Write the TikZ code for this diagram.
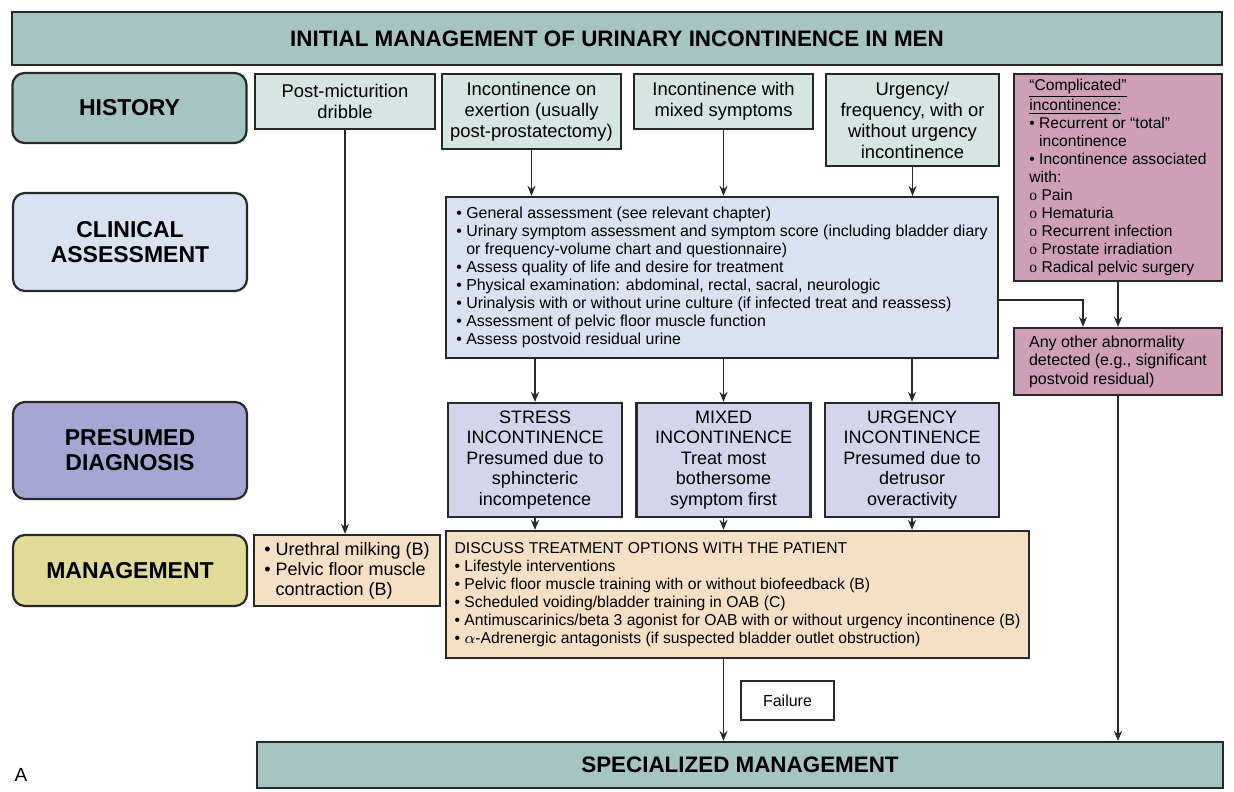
\documentclass[tikz,border=0pt]{standalone}
\usepackage{fontspec}
\setmainfont{Liberation Sans}
\newfontfamily\serifo{Liberation Serif}
\usepackage{tikz}
\usetikzlibrary{arrows.meta}
\definecolor{boxline}{RGB}{40,40,40}
\definecolor{headteal}{RGB}{166,196,192}
\definecolor{histlight}{RGB}{214,228,226}
\definecolor{clinblue}{RGB}{218,225,240}
\definecolor{diagdark}{RGB}{165,166,210}
\definecolor{diaglight}{RGB}{212,212,236}
\definecolor{mgmtyellow}{RGB}{222,220,152}
\definecolor{mgmtpeach}{RGB}{245,223,198}
\definecolor{comppink}{RGB}{205,160,182}
\newcommand{\ind}{\phantom{\textbullet\ }}
\newcommand{\subo}{{\serifo o} }

\begin{document}
\begin{tikzpicture}[x=0.5pt,y=-0.5pt,
    box/.style={draw=boxline,line width=1.1pt,inner sep=0pt,align=center},
    rowlabel/.style={box,rounded corners=6pt,font=\fontsize{11.5}{12.5}\selectfont\bfseries},
    headbox/.style={box,fill=headteal,font=\fontsize{11.2}{12}\selectfont\bfseries},
    arr/.style={-{Stealth[length=5pt,width=4pt]},line width=0.9pt,draw=boxline}]
    \useasboundingbox (0,0) rectangle (1234,791);

    % Title
    \node[headbox,minimum width=605pt,minimum height=26.5pt] (title) at (617,38.5) {INITIAL MANAGEMENT OF URINARY INCONTINENCE IN MEN};

    % Row labels
    \node[rowlabel,fill=headteal,minimum width=117pt,minimum height=35pt] (history) at (129.5,108) {HISTORY};
    \node[rowlabel,fill=clinblue,minimum width=117pt,minimum height=49pt] (clinical) at (130,242) {CLINICAL\\ASSESSMENT};
    \node[rowlabel,fill=diagdark,minimum width=117pt,minimum height=48.5pt] (presumed) at (130,450.5) {PRESUMED\\DIAGNOSIS};
    \node[rowlabel,fill=mgmtyellow,minimum width=117pt,minimum height=35.5pt] (management) at (130,570.5) {MANAGEMENT};

    % History
    \begin{scope}[every node/.style={box,fill=histlight,font=\fontsize{9.2}{10.5}\selectfont}]
    \node[minimum width=90pt,minimum height=27.5pt] (postmic) at (345,101.5) {Post-micturition\\dribble};
    \node[minimum width=89.5pt,minimum height=37.5pt] (exertion) at (531.5,111.5) {Incontinence on\\exertion (usually\\post-prostatectomy)};
    \node[minimum width=89.5pt,minimum height=27.5pt] (mixedsym) at (723.5,101.5) {Incontinence with\\mixed symptoms};
    \node[minimum width=86.5pt,minimum height=46pt] (urgfreq) at (912.5,120) {Urgency/\\frequency, with or\\without urgency\\incontinence};
    \end{scope}

    % Complicated
    \node[box,fill=comppink,align=left,minimum width=104pt,minimum height=103.5pt,font=\fontsize{7.8}{9}\selectfont] (complicated) at (1118,177.5)
        {\underline{“Complicated”}\\\underline{incontinence:}\\\textbullet\ Recurrent or “total”\\\ind incontinence\\\textbullet\ Incontinence associated\\with:\\\subo Pain\\\subo Hematuria\\\subo Recurrent infection\\\subo Prostate irradiation\\\subo Radical pelvic surgery};
    \node[box,fill=comppink,align=left,minimum width=104pt,minimum height=33.5pt,font=\fontsize{8}{9.2}\selectfont] (other) at (1118,361.5)
        {Any other abnormality\\detected (e.g., significant\\postvoid residual)};

    % Clinical assessment
    \node[box,fill=clinblue,align=left,minimum width=276pt,minimum height=80.5pt,font=\fontsize{7.95}{9.05}\selectfont] (assess) at (722,277.5)
        {\textbullet\ General assessment (see relevant chapter)\\
         \textbullet\ Urinary symptom assessment and symptom score (including bladder diary\\
         \ind or frequency-volume chart and questionnaire)\\
         \textbullet\ Assess quality of life and desire for treatment\\
         \textbullet\ Physical examination: abdominal, rectal, sacral, neurologic\\
         \textbullet\ Urinalysis with or without urine culture (if infected treat and reassess)\\
         \textbullet\ Assessment of pelvic floor muscle function\\
         \textbullet\ Assess postvoid residual urine};

    % Presumed diagnosis
    \begin{scope}[every node/.style={box,fill=diaglight,minimum width=87pt,minimum height=57pt,font=\fontsize{9}{10.25}\selectfont}]
    \node (stress) at (535,460) {STRESS\\INCONTINENCE\\Presumed due to\\sphincteric\\incompetence};
    \node (mixed) at (723.5,460) {MIXED\\INCONTINENCE\\Treat most\\bothersome\\symptom first};
    \node (urgency) at (912,460) {URGENCY\\INCONTINENCE\\Presumed due to\\detrusor\\overactivity};
    \end{scope}

    % Management
    \node[box,fill=mgmtpeach,align=left,minimum width=93pt,minimum height=35.5pt,font=\fontsize{9}{10}\selectfont] (milking) at (347,570.5)
        {\textbullet\ Urethral milking (B)\\\textbullet\ Pelvic floor muscle\\\ind contraction (B)};
    \node[box,fill=mgmtpeach,align=left,minimum width=291.5pt,minimum height=63.5pt,font=\fontsize{7.85}{9}\selectfont] (treat) at (737.5,594.5)
        {DISCUSS TREATMENT OPTIONS WITH THE PATIENT\\
         \textbullet\ Lifestyle interventions\\
         \textbullet\ Pelvic floor muscle training with or without biofeedback (B)\\
         \textbullet\ Scheduled voiding/bladder training in OAB (C)\\
         \textbullet\ Antimuscarinics/beta 3 agonist for OAB with or without urgency incontinence (B)\\
         \textbullet\ $\alpha$-Adrenergic antagonists (if suspected bladder outlet obstruction)};

    \node[box,fill=white,minimum width=46.5pt,minimum height=19.5pt,font=\fontsize{8}{9}\selectfont] (failure) at (787.5,700.5) {Failure};
    \node[headbox,minimum width=483pt,minimum height=23pt] (special) at (740,765) {SPECIALIZED MANAGEMENT};
    \node[font=\fontsize{9.5}{10}\selectfont] (panel) at (21,775) {A};

    % Connectors
    \draw[arr] (postmic.south) -- (postmic.south |- milking.north);
    \draw[arr] (exertion.south) -- (exertion.south |- assess.north);
    \draw[arr] (mixedsym.south) -- (mixedsym.south |- assess.north);
    \draw[arr] (urgfreq.south) -- (urgfreq.south |- assess.north);
    \foreach \d in {stress,mixed,urgency}{
        \draw[arr] (\d.north |- assess.south) -- (\d.north);
        \draw[arr] (\d.south) -- (\d.south |- treat.north);
    }
    \draw[arr] (complicated.south) -- (other.north);
    \draw[arr] (assess.east |- 0,300) -| ([xshift=-17.5pt]other.north);
    \draw[arr] (mixed.south |- treat.south) -- (mixed.south |- special.north);
    \draw[arr] (other.south) -- (other.south |- special.north);
\end{tikzpicture}
\end{document}
